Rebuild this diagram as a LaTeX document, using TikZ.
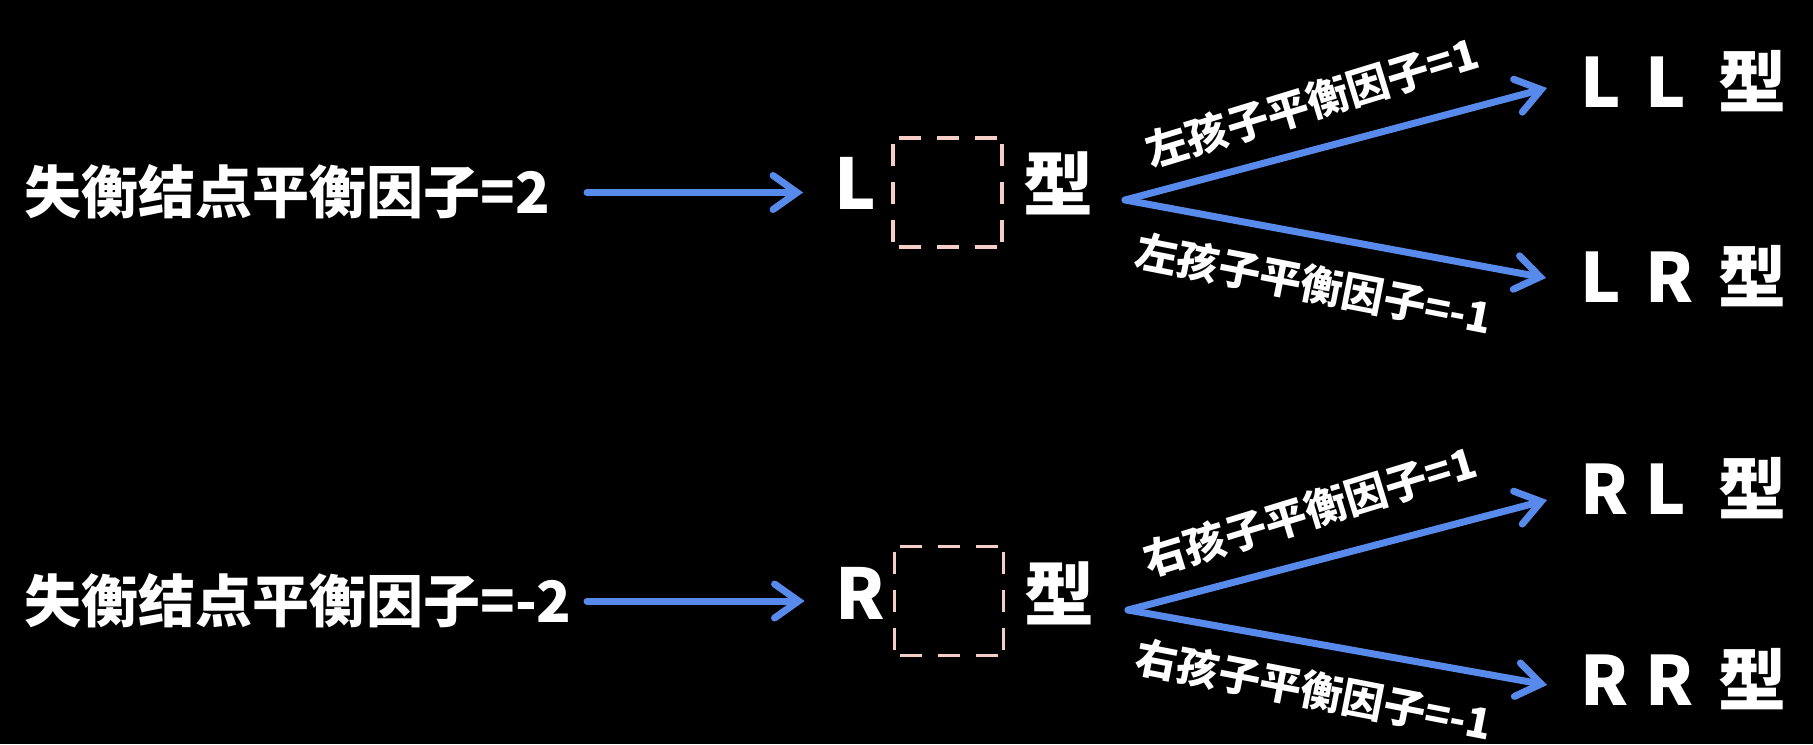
\documentclass[tikz,border=0pt]{standalone}
\usepackage{fontspec}
\setmainfont{Noto Sans CJK SC}
\usetikzlibrary{arrows.meta}
\definecolor{arrblue}{RGB}{88,138,236}
\definecolor{boxpink}{RGB}{246,206,200}
\begin{document}
\begin{tikzpicture}[x=0.5pt,y=-0.5pt,
  every node/.style={text=white,inner sep=0pt},
  arr/.style={draw=arrblue,line width=3.5pt,line cap=round,
    -{Straight Barb[length=12pt,width=17pt,line cap=round]}},
  src/.style={anchor=west,font=\bfseries\fontsize{28.5}{32}\selectfont},
  big/.style={font=\bfseries\fontsize{35}{40}\selectfont},
  res/.style={anchor=west,font=\bfseries\fontsize{34}{40}\selectfont},
  lbl/.style={font=\bfseries\fontsize{21}{24}\selectfont},
  dbox/.style={draw=boxpink,line width=1.9pt,
    dash pattern=on 11pt off 8pt on 11pt off 8pt on 11pt off 5.5pt,
    dash phase=51.75pt,
    minimum width=54.5pt,minimum height=54.5pt}]
\fill[black] (0,0) rectangle (1813,744);
\useasboundingbox (0,0) rectangle (1813,744);

% ---------- top row ----------
\node[src] (t1) at (24,192) {失衡结点平衡因子=2};
\node[big] (mL) at (855,183) {L};
\node[dbox] (box1) at (947.5,192.5) {};
\node[big] (x1) at (1058,183) {型};
\coordinate (h1s) at (587,192.5);
\draw[arr] (h1s) -- ([xshift=-44pt]box1.west);
\coordinate (v1) at (1125,200);
\node[res] (LL) at (1580,81) {\makebox[32.5pt][l]{L}\makebox[36.5pt][l]{L}型};
\node[res] (LR) at (1580,276) {\makebox[32.5pt][l]{L}\makebox[36.5pt][l]{R}型};
\draw[arr] (v1) -- ([shift={(-33,7)}]LL.west);
\draw[arr] (v1) -- ([shift={(-34,2)}]LR.west);
\node[lbl,rotate=17] (l1) at (1312,102) {左孩子平衡因子=1};
\node[lbl,rotate=-11] (l2) at (1314,284) {左孩子平衡因子=-1};

% ---------- bottom row ----------
\node[src] (t2) at (24,601) {失衡结点平衡因子=-2};
\node[big] (mR) at (860,593) {R};
\node[dbox] (box2) at (949,601) {};
\node[big] (x2) at (1059,593) {型};
\coordinate (h2s) at (587,601);
\draw[arr] (h2s) -- ([xshift=-44pt]box2.west);
\coordinate (v2) at (1128,610);
\node[res] (RL) at (1580,488) {\makebox[32.5pt][l]{R}\makebox[36.5pt][l]{L}型};
\node[res] (RR) at (1580,679) {\makebox[32.5pt][l]{R}\makebox[36.5pt][l]{R}型};
\draw[arr] (v2) -- ([shift={(-33,12)}]RL.west);
\draw[arr] (v2) -- ([shift={(-33,6)}]RR.west);
\node[lbl,rotate=17] (l3) at (1310,511) {右孩子平衡因子=1};
\node[lbl,rotate=-11] (l4) at (1314,690) {右孩子平衡因子=-1};
\end{tikzpicture}
\end{document}
